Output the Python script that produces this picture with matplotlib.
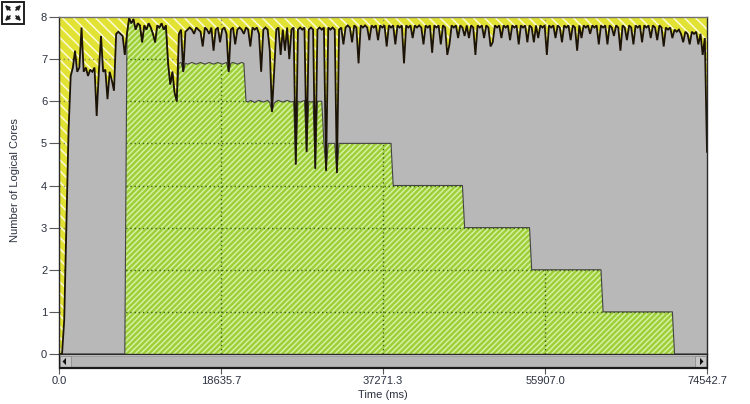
import numpy as np
import matplotlib
matplotlib.use("Agg")
import matplotlib.pyplot as plt
from matplotlib.patches import Rectangle, Polygon
from matplotlib import font_manager

# ---------------- data ----------------
T_START = 350.0
T_END = 74542.7

total_cores = [
    0.0, 0.8, 3.0, 5.3, 6.6, 6.8, 7.2, 6.7, 6.8, 7.75, 6.7, 6.8, 6.6, 6.75, 6.7, 6.8, 5.65, 6.7, 7.55, 6.7,
    6.75, 6.05, 6.7, 6.5, 6.25, 7.6, 7.65, 7.6, 7.55, 7.1, 7.6, 7.98, 7.85, 7.95, 7.7, 7.85, 7.8, 7.4, 7.8, 7.7,
    7.85, 7.75, 7.6, 7.4, 7.8, 7.75, 7.85, 7.7, 7.8, 6.9, 6.4, 6.7, 6.2, 6.0, 7.6, 7.7, 6.7, 7.65, 7.7, 7.75,
    7.7, 7.6, 7.75, 7.7, 7.65, 7.3, 7.75, 7.7, 7.6, 7.75, 7.2, 7.7, 7.75, 7.4, 7.7, 7.75, 7.6, 6.7, 7.7, 7.75,
    7.35, 7.7, 7.75, 7.7, 7.6, 7.75, 7.7, 7.3, 7.75, 7.7, 7.75, 7.6, 6.7, 7.7, 7.75, 7.7, 7.2, 5.75, 6.7, 7.7,
    7.75, 7.1, 7.7, 7.2, 7.75, 7.0, 7.7, 7.75, 4.5, 7.7, 7.75, 7.7, 7.75, 4.8, 7.7, 7.75, 7.7, 4.4, 7.7, 7.75,
    7.7, 7.75, 4.35, 7.75, 7.7, 7.75, 7.7, 4.3, 7.7, 7.75, 7.35, 7.75, 7.8, 7.75, 7.4, 7.8, 7.75, 6.9, 7.8, 7.75,
    7.8, 7.75, 7.45, 7.8, 7.75, 7.8, 7.45, 7.8, 7.75, 7.8, 7.3, 7.8, 7.75, 7.8, 7.35, 7.8, 7.75, 7.8, 6.9, 7.8,
    7.75, 7.8, 7.5, 7.8, 7.75, 7.8, 7.75, 7.35, 7.8, 7.75, 7.8, 7.15, 7.8, 7.75, 7.8, 7.35, 7.8, 7.75, 7.1, 7.35,
    7.8, 7.75, 7.8, 7.5, 7.8, 7.75, 7.55, 7.8, 7.5, 7.8, 7.75, 7.1, 7.8, 7.75, 7.8, 7.5, 7.8, 7.75, 7.3, 7.4,
    7.8, 7.75, 7.8, 7.5, 7.8, 7.75, 7.8, 7.45, 7.8, 7.75, 7.8, 7.35, 7.8, 7.75, 7.8, 7.4, 7.8, 7.75, 7.4, 7.8,
    7.5, 7.8, 7.75, 7.8, 7.1, 7.8, 7.75, 7.8, 7.5, 7.8, 7.75, 7.4, 7.8, 7.75, 7.8, 7.45, 7.8, 7.75, 7.2, 7.8,
    7.5, 7.8, 7.75, 7.8, 7.6, 7.8, 7.75, 7.8, 7.35, 7.8, 7.75, 7.8, 7.35, 7.8, 7.75, 7.55, 7.8, 7.75, 7.2, 7.8,
    7.75, 7.45, 7.8, 7.75, 7.35, 7.8, 7.75, 7.8, 7.4, 7.8, 7.75, 7.8, 7.5, 7.8, 7.75, 7.45, 7.8, 7.75, 7.3, 7.75,
    7.7, 7.75, 7.5, 7.7, 7.65, 7.7, 7.6, 7.4, 7.65, 7.6, 7.35, 7.65, 7.6, 7.65, 7.35, 7.6, 7.1, 7.5, 4.8,
]

process_cores = [
    0.0, 0.0, 0.0, 0.0, 0.0, 0.0, 0.0, 0.0, 0.0, 0.0, 0.0, 0.0, 0.0, 0.0, 0.0, 0.0, 0.0, 0.0, 0.0, 0.0,
    0.0, 0.0, 0.0, 0.0, 0.0, 0.0, 0.0, 0.0, 0.0, 0.0, 7.6, 7.98, 7.85, 7.95, 7.7, 7.85, 7.8, 7.4, 7.8, 7.7,
    7.85, 7.75, 7.6, 7.4, 7.8, 7.75, 7.85, 7.7, 7.8, 6.9, 6.4, 6.7, 6.2, 6.0, 6.9, 6.92, 6.7, 6.9, 6.88, 6.9,
    6.92, 6.9, 6.88, 6.9, 6.92, 6.9, 6.88, 6.9, 6.92, 6.9, 6.88, 6.9, 6.92, 6.9, 6.88, 6.9, 6.92, 6.7, 6.9, 6.92,
    6.9, 6.88, 6.9, 6.92, 6.9, 6.0, 5.98, 6.02, 6.0, 5.97, 6.0, 6.02, 6.0, 5.98, 6.0, 6.02, 5.97, 5.75, 5.95, 6.0,
    6.02, 6.0, 5.98, 6.0, 6.02, 6.0, 5.98, 6.0, 4.5, 6.0, 5.98, 6.0, 6.02, 4.8, 6.0, 5.98, 6.0, 4.4, 6.0, 6.0,
    6.0, 5.0, 4.35, 5.0, 5.0, 5.0, 5.0, 4.3, 5.0, 5.0, 5.0, 5.0, 5.0, 5.0, 5.0, 5.0, 5.0, 5.0, 5.0, 5.0,
    5.0, 5.0, 5.0, 5.0, 5.0, 5.0, 5.0, 5.0, 5.0, 5.0, 5.0, 5.0, 5.0, 4.0, 4.0, 4.0, 4.0, 4.0, 4.0, 4.0,
    4.0, 4.0, 4.0, 4.0, 4.0, 4.0, 4.0, 4.0, 4.0, 4.0, 4.0, 4.0, 4.0, 4.0, 4.0, 4.0, 4.0, 4.0, 4.0, 4.0,
    4.0, 4.0, 4.0, 4.0, 4.0, 4.0, 3.0, 3.0, 3.0, 3.0, 3.0, 3.0, 3.0, 3.0, 3.0, 3.0, 3.0, 3.0, 3.0, 3.0,
    3.0, 3.0, 3.0, 3.0, 3.0, 3.0, 3.0, 3.0, 3.0, 3.0, 3.0, 3.0, 3.0, 3.0, 3.0, 3.0, 3.0, 2.0, 2.0, 2.0,
    2.0, 2.0, 2.0, 2.0, 2.0, 2.0, 2.0, 2.0, 2.0, 2.0, 2.0, 2.0, 2.0, 2.0, 2.0, 2.0, 2.0, 2.0, 2.0, 2.0,
    2.0, 2.0, 2.0, 2.0, 2.0, 2.0, 2.0, 2.0, 2.0, 2.0, 1.0, 1.0, 1.0, 1.0, 1.0, 1.0, 1.0, 1.0, 1.0, 1.0,
    1.0, 1.0, 1.0, 1.0, 1.0, 1.0, 1.0, 1.0, 1.0, 1.0, 1.0, 1.0, 1.0, 1.0, 1.0, 1.0, 1.0, 1.0, 1.0, 1.0,
    1.0, 1.0, 1.0, 0.0, 0.0, 0.0, 0.0, 0.0, 0.0, 0.0, 0.0, 0.0, 0.0, 0.0, 0.0, 0.0, 0.0, 0.0, 0.0,
]

x_ticks = [0.0, 18635.7, 37271.3, 55907.0, 74542.7]
x_tick_labels = ["0.0", "18635.7", "37271.3", "55907.0", "74542.7"]
y_ticks = [0, 1, 2, 3, 4, 5, 6, 7, 8]
x_label = "Time (ms)"
y_label = "Number of Logical Cores"

# ---------------- style ----------------
names = {f.name for f in font_manager.fontManager.ttflist}
narrow = "Liberation Sans Narrow" if "Liberation Sans Narrow" in names else "Liberation Sans"
plt.rcParams["font.family"] = [narrow, "DejaVu Sans"]
plt.rcParams["hatch.linewidth"] = 1.1
TXT = "#2C3140"

times = np.concatenate([[0.0], np.linspace(T_START, T_END, len(total_cores))])
tot = np.concatenate([[0.0], np.array(total_cores)])
proc = np.concatenate([[0.0], np.array(process_cores)])

W, H = 750, 404
fig = plt.figure(figsize=(W / 100, H / 100), dpi=100)
L, R, TOP, BOT = 59, 707, 17, 354
ax = fig.add_axes([L / W, 1 - BOT / H, (R - L) / W, (BOT - TOP) / H])
ax.set_xlim(0, T_END)
ax.set_ylim(0, 8)
ax.patch.set_visible(False)

# idle (yellow hatched) background
ax.add_patch(Rectangle((0, 0), 1, 1, transform=ax.transAxes, facecolor="#E2E234",
                       edgecolor="#FBFBD8", hatch="\\\\\\", lw=0, zorder=0))

# grid beneath (visible only in idle area)
for yv in y_ticks[1:-1]:
    ax.axhline(yv, color="#8E8E58", lw=1.0, ls=(0, (1, 2)), zorder=1)
for xv in x_ticks[1:-1]:
    ax.axvline(xv, color="#8E8E58", lw=1.0, ls=(0, (1, 2)), zorder=1)

# other processes (gray) up to total
ax.fill_between(times, 0, tot, facecolor="#B8B8B8", edgecolor="none", lw=0, zorder=2)

# this process (green hatched)
gpoly = ax.fill_between(times, 0, proc, facecolor="#9CCF38", edgecolor="#D6F0A2",
                        hatch="//////", lw=0, zorder=3)
gpath = gpoly.get_paths()[0]
for yv in y_ticks[1:-1]:
    ln = ax.axhline(yv, color="#3C6410", lw=1.0, ls=(0, (1, 2)), zorder=4)
    ln.set_clip_path(gpath, ax.transData)
for xv in x_ticks[1:-1]:
    ln = ax.axvline(xv, color="#3C6410", lw=1.0, ls=(0, (1, 2)), zorder=4)
    ln.set_clip_path(gpath, ax.transData)

ax.plot(times, proc, color="#444444", lw=0.8, zorder=5)
ax.plot(times, tot, color="#1C1307", lw=1.3, zorder=6, solid_joinstyle="miter")

for s in ["left", "right", "bottom"]:
    ax.spines[s].set_color("#2A2A2A")
    ax.spines[s].set_linewidth(1.0)
ax.spines["top"].set_color("#707070")
ax.spines["top"].set_linewidth(1.0)
for sp in ax.spines.values():
    sp.set_zorder(10)

ax.set_xticks([])
ax.set_yticks(y_ticks)
ax.set_yticklabels([str(v) for v in y_ticks])
ax.tick_params(axis="y", direction="out", length=7, width=0.8, color="#5A5A5A",
               labelsize=8, labelcolor=TXT, pad=1.5)

# ---------------- scroll bar ----------------
SB_T, SB_B = 355, 368
sb = fig.add_axes([L / W, 1 - SB_B / H, (R - L) / W, (SB_B - SB_T) / H])
sb.set_xlim(0, T_END)
sb.set_ylim(0, 1)
sb.set_yticks([])
for s in sb.spines.values():
    s.set_visible(False)
sb.patch.set_visible(False)
tr = sb.transAxes
bw = 11 / (R - L)
sb.add_patch(Rectangle((0, 0), 1, 1, transform=tr, facecolor="#BABABA",
                       edgecolor="none", lw=0, zorder=1))
sb.add_patch(Rectangle((bw, 0.1), 1 - 2 * bw, 0.8, transform=tr, facecolor="#B6B6B6",
                       edgecolor="#9C9C9C", lw=0.6, zorder=2))
sb.add_patch(Rectangle((0.001, 0.08), bw, 0.84, transform=tr, facecolor="#C6C6C6",
                       edgecolor="#8E8E8E", lw=0.6, zorder=3))
sb.add_patch(Rectangle((1 - bw - 0.001, 0.08), bw, 0.84, transform=tr, facecolor="#C6C6C6",
                       edgecolor="#8E8E8E", lw=0.6, zorder=3))
sb.plot([0, 1], [0, 0], transform=tr, color="#1A1A1A", lw=1.6, zorder=5, clip_on=False,
        solid_capstyle="butt")
sb.plot([0, 0], [0, 1], transform=tr, color="#1A1A1A", lw=1.0, zorder=5, clip_on=False)
sb.plot([1, 1], [0, 1], transform=tr, color="#1A1A1A", lw=1.0, zorder=5, clip_on=False)
ax_px = R - L
sb.add_patch(Polygon([[3.5 / ax_px, 0.5], [7 / ax_px, 0.78], [7 / ax_px, 0.22]],
                     closed=True, transform=tr, facecolor="#101010", lw=0, zorder=4))
sb.add_patch(Polygon([[1 - 3.5 / ax_px, 0.5], [1 - 7 / ax_px, 0.78], [1 - 7 / ax_px, 0.22]],
                     closed=True, transform=tr, facecolor="#101010", lw=0, zorder=4))
sb.set_xticks(x_ticks)
sb.set_xticklabels(x_tick_labels)
sb.tick_params(axis="x", direction="out", length=4, width=0.8, color="#5A5A5A",
               labelsize=8, labelcolor=TXT, pad=1.5)

fig.text((L + R) / 2 / W, 1 - 395 / H, x_label, ha="center", va="center",
         fontsize=8, color=TXT)
fig.text(15 / W, 1 - 180 / H, y_label, ha="center", va="center", rotation=90,
         fontsize=8, color=TXT)

# ---------------- expand icon ----------------
ic = fig.add_axes([0, 1 - 26 / H, 26 / W, 26 / H])
ic.set_xlim(0, 26)
ic.set_ylim(26, 0)
ic.axis("off")
ic.add_patch(Rectangle((1.5, 1.5), 22, 22, facecolor="white", edgecolor="#202020", lw=1.4))
for (x0, y0, x1, y1) in [(10, 10, 5, 5), (16, 10, 21, 5), (10, 16, 5, 21), (16, 16, 21, 21)]:
    ic.annotate("", xy=(x1, y1), xytext=(x0, y0),
                arrowprops=dict(arrowstyle="-|>", color="#202020", lw=1.2,
                                mutation_scale=6, shrinkA=0, shrinkB=0))

fig.savefig("out.png", dpi=100)
